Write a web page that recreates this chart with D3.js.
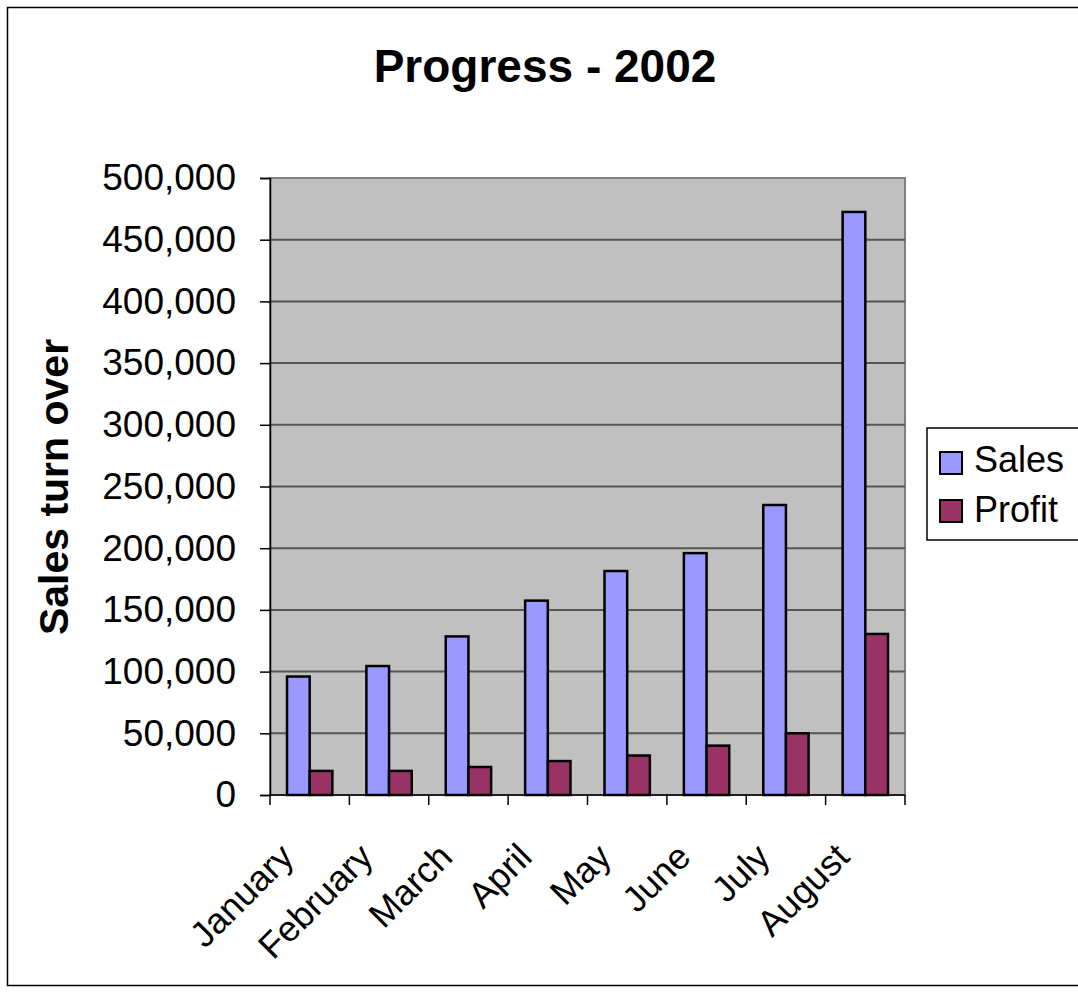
<!DOCTYPE html>
<html>
<head>
<meta charset="utf-8">
<script src="https://cdnjs.cloudflare.com/ajax/libs/d3/7.8.5/d3.min.js"></script>
<style>
  body { margin: 0; background: #fff; }
  text { font-family: "Liberation Sans", Arial, sans-serif; }
</style>
</head>
<body>
<script>
// chart values
var months = ["January", "February", "March", "April", "May", "June", "July", "August"];
var sales  = [96000, 104500, 128500, 157500, 181500, 196000, 235000, 472500];
var profit = [19500, 19500, 22700, 27500, 32000, 40000, 50000, 130500];
var yTicks = [0, 50000, 100000, 150000, 200000, 250000, 300000, 350000, 400000, 450000, 500000];
var seriesNames = ["Sales", "Profit"];
var seriesColors = ["#9999ff", "#993366"];

var W = 1078, H = 993;
var plot = {left: 270, right: 905, top: 178, bottom: 795};

var svg = d3.select("body").append("svg")
    .attr("width", W)
    .attr("height", H);

// outer chart border
svg.append("rect")
    .attr("x", 7.5).attr("y", 7.5)
    .attr("width", W + 10).attr("height", 978)
    .attr("fill", "#fff")
    .attr("stroke", "#000").attr("stroke-width", 1.5);

var x = d3.scaleBand()
    .domain(months)
    .range([plot.left, plot.right]);

var y = d3.scaleLinear()
    .domain([0, 500000])
    .range([plot.bottom, plot.top]);

// plot area
svg.append("rect")
    .attr("x", plot.left).attr("y", plot.top)
    .attr("width", plot.right - plot.left)
    .attr("height", plot.bottom - plot.top)
    .attr("fill", "#c0c0c0")
    .attr("stroke", "#808080").attr("stroke-width", 2);

// gridlines
svg.append("g").selectAll("line")
    .data(yTicks.filter(function(d){ return d > 0 && d < 500000; }))
    .enter().append("line")
    .attr("x1", plot.left).attr("x2", plot.right)
    .attr("y1", function(d){ return y(d); })
    .attr("y2", function(d){ return y(d); })
    .attr("stroke", "#555").attr("stroke-width", 2);

// bars: Excel style, gap width 150%
var bw = x.bandwidth() / 3.5;
var groups = svg.append("g").selectAll("g")
    .data(months)
    .enter().append("g")
    .attr("transform", function(d){ return "translate(" + x(d) + ",0)"; });

[sales, profit].forEach(function(vals, s) {
    groups.append("rect")
        .attr("x", bw * 0.75 + s * bw)
        .attr("width", bw)
        .attr("y", function(d, i){ return y(vals[i]); })
        .attr("height", function(d, i){ return plot.bottom - y(vals[i]); })
        .attr("fill", seriesColors[s])
        .attr("stroke", "#000").attr("stroke-width", 2.5);
});

// y axis
var yAxis = d3.axisLeft(y)
    .tickValues(yTicks)
    .tickSize(10)
    .tickPadding(24)
    .tickFormat(d3.format(","));

var gy = svg.append("g")
    .attr("transform", "translate(" + plot.left + ",0)")
    .call(yAxis);
gy.select(".domain").attr("stroke", "#000").attr("stroke-width", 1.5);
gy.selectAll(".tick line").attr("stroke", "#000").attr("stroke-width", 1.5);
gy.selectAll(".tick text")
    .attr("font-size", 37)
    .attr("fill", "#000")
    .attr("font-family", "Liberation Sans, Arial, sans-serif");

// x axis: ticks at category boundaries
var gx = svg.append("g");
gx.append("line")
    .attr("x1", plot.left).attr("x2", plot.right)
    .attr("y1", plot.bottom).attr("y2", plot.bottom)
    .attr("stroke", "#000").attr("stroke-width", 1.5);
gx.selectAll("line.tk")
    .data(months.concat(["end"]))
    .enter().append("line")
    .attr("class", "tk")
    .attr("x1", function(d, i){ return plot.left + i * x.bandwidth(); })
    .attr("x2", function(d, i){ return plot.left + i * x.bandwidth(); })
    .attr("y1", plot.bottom).attr("y2", plot.bottom + 10)
    .attr("stroke", "#000").attr("stroke-width", 1.5);

gx.selectAll("text")
    .data(months)
    .enter().append("text")
    .attr("transform", function(d){
        return "translate(" + (x(d) + x.bandwidth() / 2 - 14) + "," + (plot.bottom + 64) + ") rotate(-45)";
    })
    .attr("text-anchor", "end")
    .attr("font-size", 36)
    .text(function(d){ return d; });

// title
svg.append("text")
    .attr("x", 545).attr("y", 82)
    .attr("text-anchor", "middle")
    .attr("font-size", 46)
    .attr("font-weight", "bold")
    .text("Progress - 2002");

// y axis title
svg.append("text")
    .attr("transform", "translate(68,487) rotate(-90)")
    .attr("text-anchor", "middle")
    .attr("font-size", 41)
    .attr("font-weight", "bold")
    .text("Sales turn over");

// legend
var lg = svg.append("g").attr("transform", "translate(927,428)");
lg.append("rect")
    .attr("width", 160).attr("height", 112)
    .attr("fill", "#fff")
    .attr("stroke", "#000").attr("stroke-width", 1.5);
seriesNames.forEach(function(name, i) {
    lg.append("rect")
        .attr("x", 13).attr("y", 24 + i * 48)
        .attr("width", 22).attr("height", 22)
        .attr("fill", seriesColors[i])
        .attr("stroke", "#000").attr("stroke-width", 2);
    lg.append("text")
        .attr("x", 47).attr("y", 44 + i * 50)
        .attr("font-size", 36)
        .text(name);
});
</script>
</body>
</html>
